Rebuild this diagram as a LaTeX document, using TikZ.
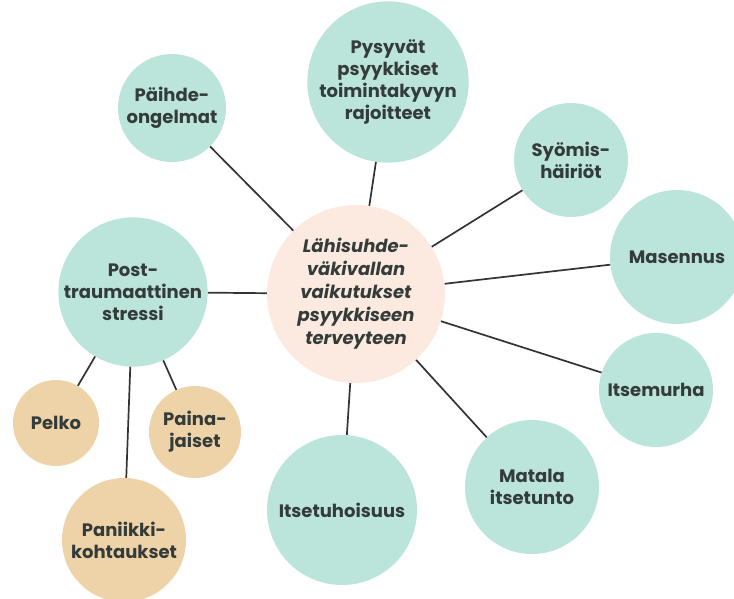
\documentclass[tikz,border=0pt]{standalone}
\usepackage{fontspec}
\setmainfont{Poppins}
\definecolor{mint}{HTML}{BBE4DA}
\definecolor{sand}{HTML}{EED3A9}
\definecolor{blush}{HTML}{FCEAE0}
\definecolor{ink}{HTML}{343C3A}
\definecolor{wire}{HTML}{333333}
\tikzset{
  bubble/.style={circle, fill=mint, text=ink, align=center, inner sep=0pt,
    font=\bfseries\fontsize{18}{22}\selectfont},
  sandbubble/.style={bubble, fill=sand},
  link/.style={draw=wire, line width=1.7pt}
}
\begin{document}
\begin{tikzpicture}[x=1pt,y=-1pt]
  \useasboundingbox (0,0) rectangle (734,599);

  % centre
  \node[bubble, fill=blush, minimum size=178pt,
        font=\bfseries\itshape\fontsize{18}{23}\selectfont]
        (hub) at (356,294) {Lähisuhde-\\väkivallan\\vaikutukset\\psyykkiseen\\terveyteen};

  % effects
  \node[bubble, minimum size=108pt] (paihde) at (172,108) {Päihde-\\ongelmat};
  \node[bubble, minimum size=156pt] (pysyvat) at (388,82) {Pysyvät\\psyykkiset\\toimintakyvyn\\rajoitteet};
  \node[bubble, minimum size=114pt] (syomis) at (571,160) {Syömis-\\häiriöt};
  \node[bubble, minimum size=134pt] (masennus) at (677,257) {Masennus};
  \node[bubble, minimum size=114pt] (itsemurha) at (656,390) {Itsemurha};
  \node[bubble, minimum size=134pt] (matala) at (532,487) {Matala\\itsetunto};
  \node[bubble, minimum size=150pt] (itsetuho) at (342,510) {Itsetuhoisuus};
  \node[bubble, minimum size=148pt] (post) at (133,292) {Post-\\traumaattinen\\stressi};

  % ptsd symptoms
  \node[sandbubble, minimum size=86pt] (pelko) at (56,423) {Pelko};
  \node[sandbubble, minimum size=92pt] (painajaiset) at (195,432) {Paina-\\jaiset};
  \node[sandbubble, minimum size=124pt] (paniikki) at (124,540) {Paniikki-\\kohtaukset};

  % connectors
  \draw[link] (hub) -- (paihde);
  \draw[link] (hub) -- (pysyvat);
  \draw[link] (hub) -- (syomis);
  \draw[link] (hub) -- (masennus);
  \draw[link] (hub) -- (itsemurha);
  \draw[link] (hub) -- (matala);
  \draw[link] (hub) -- (itsetuho);
  \draw[link] (hub) -- (post);
  \draw[link] (post) -- (pelko);
  \draw[link] (post) -- (painajaiset);
  \draw[link] (post) -- (paniikki);
\end{tikzpicture}
\end{document}
